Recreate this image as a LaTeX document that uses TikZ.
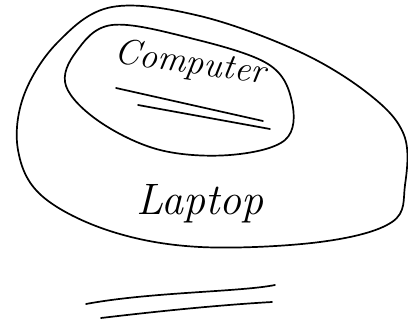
\documentclass[tikz,border=0pt]{standalone}
\usepackage{tikz}
\usetikzlibrary{positioning, calc}

\begin{document}
\begin{tikzpicture}[x=1pt, y=-1pt,
    every node/.style={font=\itshape},
    stroke/.style={line width=1.7pt, line cap=round, line join=round},
    word/.style={inner sep=0pt, font=\fontsize{36}{42}\selectfont\itshape}]

  \useasboundingbox (0,0) rectangle (408,324);

  % outer blob (laptop)
  \draw[stroke] plot[smooth cycle, tension=0.6] coordinates {
    (112,7) (200,16) (300,52) (370,95) (404,135) (405,185) (392,222)
    (320,242) (200,247) (110,231) (42,196) (18,150) (24,95) (58,42)};

  % inner blob (computer)
  \draw[stroke] plot[smooth cycle, tension=0.6] coordinates {
    (112,25) (190,38) (268,64) (292,102) (285,140) (230,155) (160,150)
    (100,122) (66,86) (76,52)};

  \node[word, rotate=-8] (comp) at (190,64) {Computer};
  \node[word, font=\fontsize{44}{50}\selectfont\itshape] (lap) at (200,204) {Laptop};

  % double underline
  \coordinate (ua) at (116,88);
  \coordinate (ub) at (263,121);
  \coordinate (uc) at (138,105);
  \coordinate (ud) at (270,129);
  \draw[stroke] (ua) -- (ub);
  \draw[stroke] (uc) -- (ud);

  % lines at the bottom
  \coordinate (la) at (86,304);
  \coordinate (lb) at (275,285);
  \coordinate (lc) at (101,318);
  \coordinate (ld) at (272,302);
  \draw[stroke] (la) .. controls (150,292) and (240,292) .. (lb);
  \draw[stroke] (lc) .. controls (160,311) and (220,305) .. (ld);
\end{tikzpicture}
\end{document}
